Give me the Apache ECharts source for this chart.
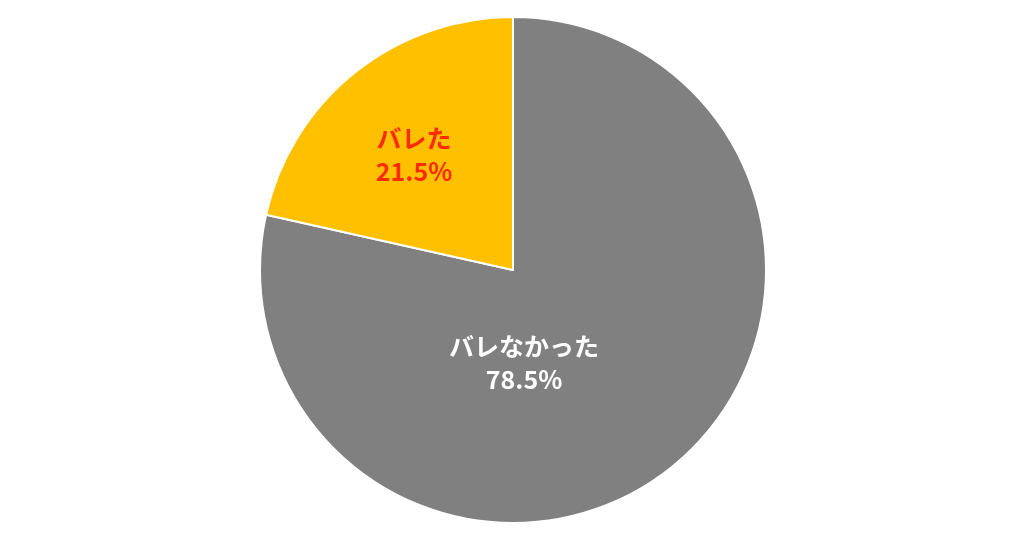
<!DOCTYPE html>
<html>
<head>
<meta charset="utf-8">
<script src="https://cdn.jsdelivr.net/npm/echarts@6/dist/echarts.min.js"></script>
<style>html,body{margin:0;padding:0;background:#fff}#c{width:1024px;height:538px}</style>
</head>
<body>
<div id="c"></div>
<script>
const categories = ['バレなかった', 'バレた'];
const values = [78.5, 21.5];
const colors = ['#808080', '#FFC000'];
const labelColors = ['#FFFFFF', '#FF2A00'];
const labelPos = [[524, 363], [414, 155]];

const chart = echarts.init(document.getElementById('c'));
chart.setOption({
  animation: false,
  series: [{
    type: 'pie',
    center: [513, 270],
    radius: 253,
    startAngle: 90,
    clockwise: true,
    itemStyle: { borderColor: '#fff', borderWidth: 2 },
    label: {
      position: 'inside',
      fontFamily: '"Noto Sans CJK JP", sans-serif',
      fontWeight: 'bold',
      fontSize: 25,
      lineHeight: 33,
      align: 'center',
      formatter: p => p.name + '\n' + p.value.toFixed(1) + '%'
    },
    labelLayout: p => ({ x: labelPos[p.dataIndex][0], y: labelPos[p.dataIndex][1], align: 'center', verticalAlign: 'middle' }),
    emphasis: { disabled: true },
    data: categories.map((c, i) => ({
      name: c, value: values[i],
      itemStyle: { color: colors[i] },
      label: { color: labelColors[i] }
    }))
  }]
});
</script>
</body>
</html>
